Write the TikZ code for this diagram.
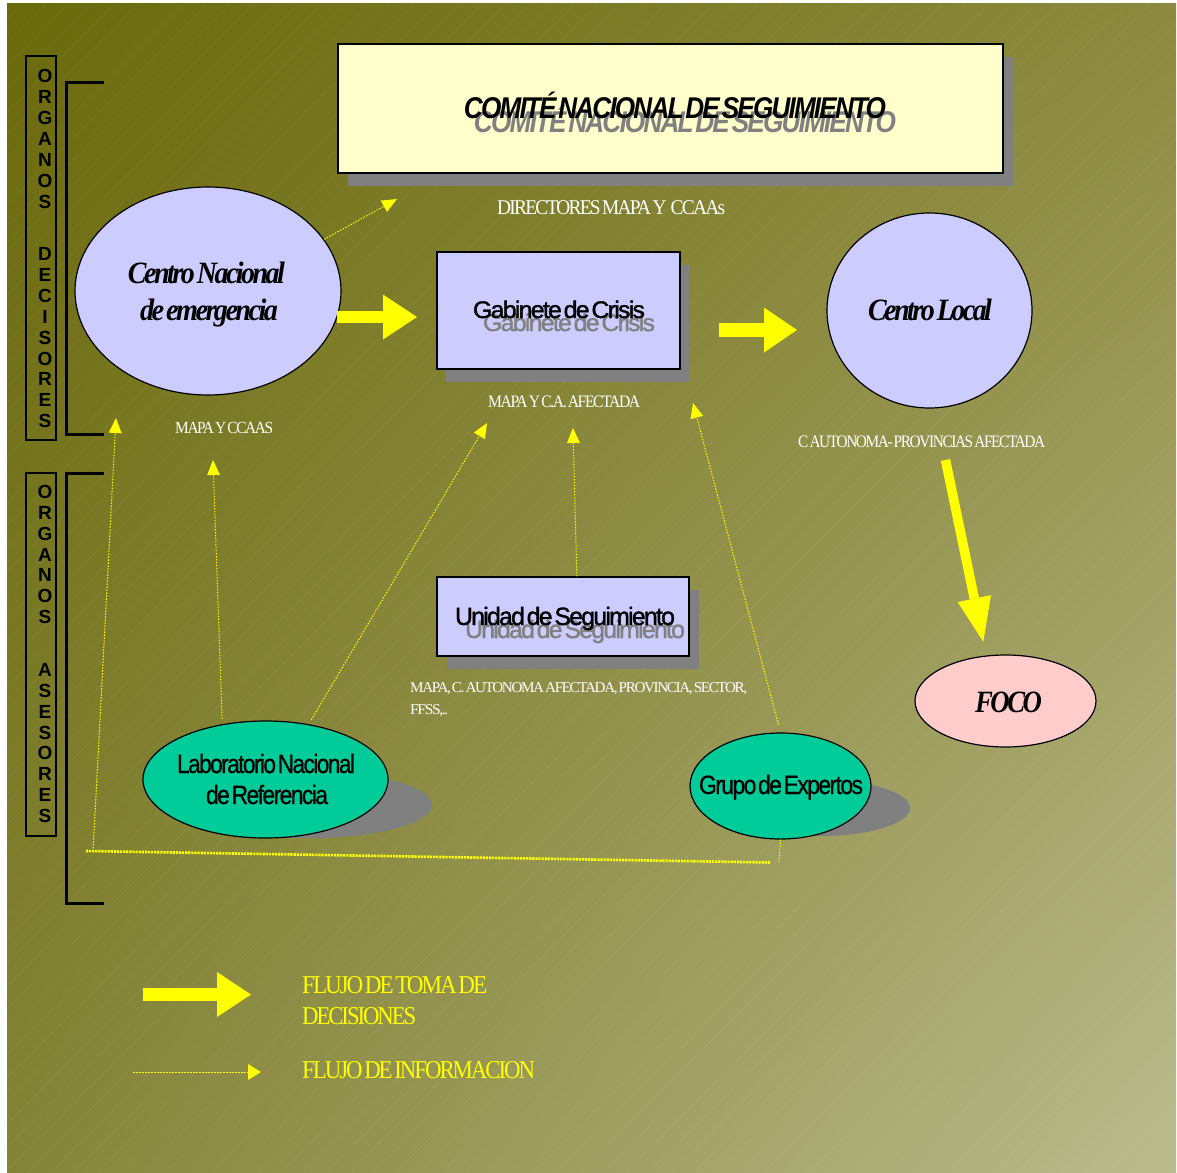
\documentclass[tikz,border=0pt]{standalone}
\usepackage{graphicx}
\usepackage{fontspec}
\setmainfont{Liberation Serif}
\newfontfamily\arialf{Liberation Sans}
\newfontfamily\arialt[LetterSpace=-7,WordSpace=0.35]{Liberation Sans}
\newfontfamily\arialh[LetterSpace=-7,WordSpace=0.35,FakeBold=1.3]{Liberation Sans}
\newfontfamily\ariale[LetterSpace=-7,WordSpace=0.35,FakeBold=0.7]{Liberation Sans}
\newfontfamily\serift[LetterSpace=-9,WordSpace=0.45]{Liberation Serif}
\usetikzlibrary{arrows.meta,shapes.geometric,shadings}
\definecolor{lav}{HTML}{CCCCFF}
\definecolor{cream}{HTML}{FFFFCC}
\definecolor{tealf}{HTML}{00CC99}
\definecolor{pinkf}{HTML}{FFCCCC}
\definecolor{shgray}{HTML}{808080}
\definecolor{ayellow}{HTML}{FFFF00}
\definecolor{bgUL}{HTML}{6A690B}
\definecolor{bgUR}{HTML}{8C8A3E}
\definecolor{bgLL}{HTML}{848438}
\definecolor{bgLR}{HTML}{BBBB8E}
\newcommand{\fw}[2]{\resizebox{#1}{\height}{#2}}
\newcommand{\titlefont}{\arialt\bfseries\itshape\fontsize{30}{36}\selectfont}
\newcommand{\gabfont}{\arialh\fontsize{24}{28}\selectfont}
\newcommand{\unifont}{\arialh\fontsize{25}{30}\selectfont}
\newcommand{\ellfont}{\ariale\fontsize{26.5}{31}\selectfont}
\newcommand{\cenfont}{\serift\bfseries\itshape\fontsize{31}{37}\selectfont}
\newcommand{\letfont}{\arialf\bfseries\fontsize{19}{19}\selectfont}
\begin{document}
\begin{tikzpicture}[x=1pt,y=-1pt,
  boxnode/.style={draw=black, line width=1.3pt, inner sep=0pt},
  shadowfill/.style={fill=shgray, inner sep=0pt},
  ellnode/.style={ellipse, draw=black, line width=1.2pt, inner sep=0pt},
  ellshadow/.style={ellipse, fill=shgray, inner sep=0pt},
  vletter/.style={inner sep=0pt, font=\letfont, anchor=center},
  whitelbl/.style={anchor=base west, inner sep=0pt, text=white},
  legendlbl/.style={anchor=base west, inner sep=0pt, text=ayellow, font=\serift\fontsize{25.7}{30}\selectfont},
  infoline/.style={draw=ayellow, line width=1pt, dash pattern=on 1.5pt off 1.5pt},
  infoarrow/.style={infoline, -{Triangle[width=13pt,length=15pt,line width=0pt]}},
  infothick/.style={draw=ayellow, line width=2.6pt, dash pattern=on 2.2pt off 0.9pt},
  bigarrow/.style={draw=ayellow, -{Triangle[width=45pt,length=34pt,line width=0pt]}}
]
\useasboundingbox (0,0) rectangle (1177,1172);
\fill[white] (0,0) rectangle (1177,1172);
\shade[upper left=bgUL, upper right=bgUR, lower left=bgLL, lower right=bgLR] (7,4) rectangle (1176,1172);
\begin{scope}
  \clip (7,4) rectangle (1176,1172);
  \foreach \k in {0,...,102} \draw[white, opacity=0.07, line width=0.6pt] ({-1168+\k*23},1172) -- ({\k*23},4);
\end{scope}

% side boxes and brackets
\node[draw=black, line width=1.3pt, minimum width=30pt, minimum height=384pt, inner sep=0pt] (vboxA) at (41,248) {};
\node[draw=black, line width=1.3pt, minimum width=30pt, minimum height=363pt, inner sep=0pt] (vboxB) at (41,654.5) {};
\foreach \ch/\yy [count=\i] in {O/76,R/97,G/118,A/139,N/160,O/181,S/202,D/254,E/274.9,C/295.8,I/316.7,S/337.6,O/358.5,R/379.4,E/400.3,S/421.2}
  \node[vletter] (va\i) at (45,\yy) {\ch};
\foreach \ch/\yy [count=\i] in {O/492,R/512.8,G/533.7,A/554.5,N/575.3,O/596.2,S/617,A/670,S/690.9,E/711.7,S/732.6,O/753.4,R/774.3,E/795.1,S/816}
  \node[vletter] (vb\i) at (45,\yy) {\ch};
\draw[line width=3pt] (104,82) -- (66,82) -- (66,434) -- (104,434);
\draw[line width=3pt] (104,473) -- (66,473) -- (66,903) -- (104,903);

% Comite
\node[shadowfill, minimum width=665pt, minimum height=129pt] (comSh) at (680.5,121.5) {};
\node[boxnode, fill=cream, minimum width=665pt, minimum height=129pt] (com) at (670.5,108.5) {};
\node[anchor=base, inner sep=0pt, text=shgray, font=\titlefont] (comTS) at (685,132) {\fw{422pt}{COMITÉ NACIONAL DE SEGUIMIENTO}};
\node[anchor=base, inner sep=0pt, font=\titlefont] (comT) at (675,118) {\fw{422pt}{COMITÉ NACIONAL DE SEGUIMIENTO}};

% Gabinete
\node[shadowfill, minimum width=243pt, minimum height=117pt] (gabSh) at (567.5,323.5) {};
\node[boxnode, fill=lav, minimum width=243pt, minimum height=117pt] (gab) at (558.5,310.5) {};
\node[anchor=base, inner sep=0pt, text=shgray, font=\gabfont] (gabTS) at (569,331) {\fw{172pt}{Gabinete de Crisis}};
\node[anchor=base, inner sep=0pt, font=\gabfont] (gabT) at (559,318) {\fw{172pt}{Gabinete de Crisis}};

% Unidad
\node[shadowfill, minimum width=252pt, minimum height=79pt] (uniSh) at (573,629.5) {};
\node[boxnode, fill=lav, minimum width=252pt, minimum height=79pt] (uni) at (563,616.5) {};
\node[anchor=base, inner sep=0pt, text=shgray, font=\unifont] (uniTS) at (575,638) {\fw{220pt}{Unidad de Seguimiento}};
\node[anchor=base, inner sep=0pt, font=\unifont] (uniT) at (565,625) {\fw{220pt}{Unidad de Seguimiento}};

% Ellipses
\node[ellnode, fill=lav, minimum width=266pt, minimum height=208pt] (cn) at (208,291) {};
\node[anchor=base, inner sep=0pt, font=\cenfont] (cnT1) at (206.5,283) {\fw{157pt}{Centro Nacional}};
\node[anchor=base, inner sep=0pt, font=\cenfont] (cnT2) at (209,320) {\fw{138pt}{de emergencia}};

\node[ellnode, fill=lav, minimum width=205pt, minimum height=195pt] (cl) at (929.5,310.5) {};
\node[anchor=base, inner sep=0pt, font=\cenfont] (clT) at (930,320) {\fw{124pt}{Centro Local}};

\node[ellnode, fill=pinkf, minimum width=181pt, minimum height=92pt] (foco) at (1005.5,701) {};
\node[anchor=base, inner sep=0pt, font=\cenfont] (focoT) at (1008.5,712) {\fw{67pt}{FOCO}};

\node[ellshadow, minimum width=244pt, minimum height=66pt] (labSh) at (310,805) {};
\node[ellnode, fill=tealf, minimum width=245pt, minimum height=117pt] (lab) at (265.5,779.5) {};
\node[anchor=base, inner sep=0pt, font=\ellfont] (labT1) at (266,773) {\fw{178pt}{Laboratorio Nacional}};
\node[anchor=base, inner sep=0pt, font=\ellfont] (labT2) at (267,804) {\fw{122pt}{de Referencia}};

\node[ellshadow, minimum width=180pt, minimum height=56pt] (gruSh) at (820,808) {};
\node[ellnode, fill=tealf, minimum width=181pt, minimum height=106pt] (gru) at (780.5,786) {};
\node[anchor=base, inner sep=0pt, font=\ellfont] (gruT) at (781,794) {\fw{164pt}{Grupo de Expertos}};

% white labels
\node[whitelbl, font=\serift\fontsize{21}{25}\selectfont] (dirL) at (497,214) {\fw{228pt}{DIRECTORES MAPA Y\ \ \ CCAAs}};
\node[whitelbl, font=\serift\fontsize{17}{20}\selectfont] (mapaL) at (175,433) {\fw{98pt}{MAPA Y CCAAS}};
\node[whitelbl, font=\serift\fontsize{17.5}{20}\selectfont] (mapacaL) at (488,407) {\fw{152pt}{MAPA Y C.A. AFECTADA}};
\node[whitelbl, font=\serift\fontsize{17.5}{20}\selectfont] (cautL) at (798,447) {\fw{247pt}{C AUTONOMA- PROVINCIAS AFECTADA}};
\node[whitelbl, font=\serift\fontsize{15}{18}\selectfont] (mapacL) at (410,692) {\fw{337pt}{MAPA, C. AUTONOMA AFECTADA, PROVINCIA, SECTOR,}};
\node[whitelbl, font=\serift\fontsize{15}{18}\selectfont] (ffssL) at (410,714) {\fw{38pt}{FFSS,..}};

% information flows
\coordinate (tipA) at (397,199);
\coordinate (tipB) at (213,460);
\coordinate (tipC) at (487,423);
\coordinate (tipD) at (573,428);
\coordinate (tipE) at (693,403);
\coordinate (tipF) at (116,418);
\coordinate (rtA) at (779,862);
\coordinate (rtB) at (770,862.5);
\coordinate (rtC) at (86,851);
\coordinate (rtD) at (93,851.5);
\draw[infoarrow] (cn.24) -- (tipA);
\draw[infoarrow, shorten <=5pt] (lab.128) -- (tipB);
\draw[infoarrow, shorten <=5pt] (lab.52) -- (tipC);
\draw[infoarrow] (uni.71) -- (tipD);
\draw[infoarrow, shorten <=8pt] (gru.north) -- (tipE);
\draw[infoline] (gru.south) -- (rtA);
\draw[infothick] (rtB) -- (rtC);
\draw[infoarrow] (rtD) -- (tipF);

% decision flows
\coordinate (baS) at (337,317);
\coordinate (baE) at (417,317);
\coordinate (bbS) at (719,330);
\coordinate (bbE) at (797,330);
\coordinate (bcS) at (945.5,460);
\coordinate (bcE) at (983.3,641.7);
\draw[bigarrow, line width=12pt] (baS) -- (baE);
\draw[bigarrow, line width=14pt, -{Triangle[width=45pt,length=33pt,line width=0pt]}] (bbS) -- (bbE);
\draw[bigarrow, line width=9.5pt, -{Triangle[width=34pt,length=44pt,line width=0pt]}] (bcS) -- (bcE);

% legend
\coordinate (lgA) at (143,994.5);
\coordinate (lgB) at (251,994.5);
\coordinate (lgC) at (133,1072);
\coordinate (lgD) at (261,1072);
\draw[bigarrow, line width=13pt] (lgA) -- (lgB);
\draw[infoline, -{Triangle[width=16pt,length=13pt,line width=0pt]}] (lgC) -- (lgD);
\node[legendlbl] (leg1) at (302,993) {\fw{185pt}{FLUJO DE TOMA DE}};
\node[legendlbl] (leg2) at (302,1024) {\fw{114pt}{DECISIONES}};
\node[legendlbl] (leg3) at (302,1078) {\fw{233pt}{FLUJO DE INFORMACION}};
\end{tikzpicture}
\end{document}
